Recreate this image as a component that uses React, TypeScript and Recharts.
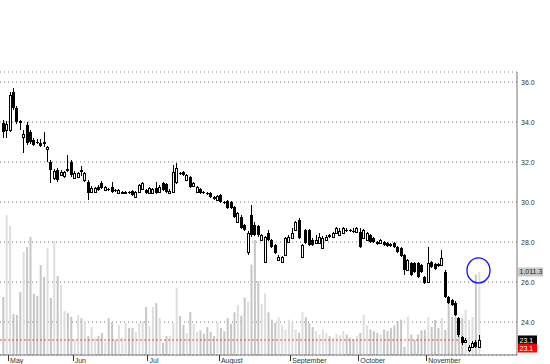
import { Bar, CartesianGrid, Cell, ComposedChart, ReferenceDot, ReferenceLine, XAxis, YAxis } from "recharts";

// daily candles, late April .. mid November
const opens = [
  33.95, 33.6, 33.6, 35.5, 34.7, 34.05, 33.25, 33.85, 33.5, 33.1,
  33.0, 32.95, 33.0, 32.65, 32.0, 31.2, 31.6, 31.35, 31.3, 31.65,
  32.0, 31.2, 31.25, 31.6, 31.1, 31.0, 30.5, 30.5, 30.75, 30.95,
  30.6, 30.65, 30.75, 30.6, 30.45, 30.5, 30.5, 30.5, 30.55, 30.25,
  30.5, 30.65, 30.6, 30.45, 30.45, 30.7, 30.5, 30.95, 30.9, 30.45,
  30.5, 31.0, 31.45, 31.5, 31.1, 31.25, 30.8, 30.5, 30.65, 30.5,
  30.45, 30.45, 30.25, 30.1, 30.35, 30.0, 30.05, 30.0, 29.75, 29.0,
  29.25, 28.85, 27.5, 29.35, 28.85, 28.8, 28.1, 27.0, 28.45, 28.1,
  27.85, 27.1, 27.0, 27.35, 28.0, 28.2, 28.6, 29.1, 27.25, 28.6,
  28.6, 28.1, 27.95, 27.95, 27.7, 28.1, 28.35, 28.25, 28.45, 28.35,
  28.45, 28.6, 28.6, 28.55, 28.5, 28.5, 28.2, 28.1, 28.35, 28.2,
  28.0, 27.95, 28.0, 27.95, 27.9, 27.95, 27.75, 27.7, 27.35, 26.6,
  26.95, 26.95, 26.95, 26.85, 26.25, 26.0, 27.0, 26.9, 26.9, 26.85,
  26.5, 25.25, 25.1, 24.95, 24.2, 23.25, 23.0, 22.6, 22.75, 23.0,
  22.75,
];
const highs = [
  34.1, 34.05, 35.5, 35.7, 34.8, 34.1, 33.6, 34.0, 33.6, 33.2,
  33.15, 33.15, 33.5, 32.8, 32.1, 31.65, 31.7, 31.6, 31.55, 32.35,
  32.1, 31.55, 31.5, 31.8, 31.5, 31.1, 30.8, 30.75, 30.85, 31.05,
  30.8, 30.7, 31.0, 30.65, 30.65, 30.55, 30.55, 30.55, 30.6, 30.55,
  30.9, 31.0, 30.65, 30.75, 30.7, 31.0, 30.85, 31.0, 30.95, 30.65,
  31.85, 31.95, 31.5, 31.55, 31.4, 31.3, 31.0, 30.8, 30.7, 30.55,
  30.5, 30.5, 30.3, 30.35, 30.4, 30.05, 30.1, 30.05, 29.8, 29.5,
  29.35, 28.9, 28.55, 29.85, 29.0, 28.85, 28.4, 28.3, 28.6, 28.15,
  27.9, 27.35, 27.3, 28.25, 28.35, 28.7, 29.05, 29.2, 27.9, 28.65,
  28.65, 28.2, 28.35, 28.45, 28.3, 28.35, 28.4, 28.5, 28.75, 28.7,
  28.75, 28.7, 28.65, 28.7, 28.75, 28.7, 28.65, 28.5, 28.4, 28.25,
  28.05, 28.15, 28.05, 28.0, 27.95, 28.0, 27.8, 27.75, 27.4, 27.15,
  27.0, 27.0, 27.0, 26.9, 26.3, 27.75, 27.05, 26.95, 26.95, 27.6,
  26.6, 25.3, 25.15, 25.05, 24.25, 23.3, 23.2, 22.85, 23.05, 23.1,
  23.35,
];
const lows = [
  33.2, 33.2, 33.5, 34.6, 33.9, 33.6, 32.45, 32.85, 32.9, 32.8,
  32.9, 32.75, 32.75, 32.0, 30.95, 31.1, 31.0, 31.3, 31.2, 31.5,
  31.25, 31.15, 31.2, 31.3, 31.0, 30.1, 30.45, 30.45, 30.55, 30.65,
  30.55, 30.55, 30.45, 30.5, 30.4, 30.45, 30.45, 30.4, 30.3, 30.2,
  30.45, 30.6, 30.4, 30.4, 30.4, 30.4, 30.45, 30.55, 30.45, 30.4,
  30.45, 30.9, 31.35, 31.3, 31.05, 30.7, 30.75, 30.45, 30.4, 30.4,
  30.35, 30.2, 30.1, 30.05, 29.95, 29.9, 29.65, 29.65, 29.2, 28.95,
  28.65, 28.55, 27.35, 28.25, 28.3, 28.25, 28.05, 26.95, 28.05, 27.7,
  27.4, 27.05, 26.95, 27.3, 27.95, 28.15, 28.55, 28.15, 27.2, 27.9,
  27.8, 27.8, 27.9, 27.9, 27.65, 28.05, 28.2, 28.2, 28.4, 28.3,
  28.4, 28.5, 28.5, 28.45, 28.45, 27.7, 28.15, 28.05, 27.95, 27.95,
  27.85, 27.9, 27.8, 27.75, 27.75, 27.7, 27.45, 27.25, 26.35, 26.55,
  26.3, 26.45, 26.2, 26.45, 25.9, 25.95, 26.7, 26.6, 26.75, 26.8,
  25.2, 24.9, 24.8, 24.3, 23.25, 22.85, 22.95, 22.5, 22.7, 22.7,
  22.7,
];
const closes = [
  33.5, 33.9, 35.35, 34.7, 34.0, 33.95, 33.4, 32.95, 33.0, 32.85,
  32.95, 32.8, 32.9, 32.75, 31.6, 31.55, 31.1, 31.5, 31.5, 31.55,
  31.35, 31.45, 31.45, 31.5, 31.45, 30.45, 30.7, 30.7, 30.6, 30.7,
  30.75, 30.6, 30.5, 30.55, 30.6, 30.5, 30.5, 30.45, 30.35, 30.5,
  30.85, 30.95, 30.45, 30.7, 30.65, 30.45, 30.75, 30.6, 30.5, 30.55,
  31.5, 31.7, 31.4, 31.35, 31.35, 30.75, 30.95, 30.75, 30.45, 30.45,
  30.4, 30.25, 30.15, 30.3, 30.0, 29.95, 29.7, 29.7, 29.25, 29.45,
  28.7, 28.6, 28.45, 28.35, 28.35, 28.35, 28.35, 28.25, 28.1, 27.75,
  27.45, 27.25, 27.25, 28.2, 28.25, 28.45, 29.0, 28.2, 27.85, 27.95,
  27.85, 27.85, 28.1, 28.25, 28.2, 28.25, 28.25, 28.45, 28.7, 28.55,
  28.7, 28.55, 28.55, 28.5, 28.7, 27.75, 28.6, 28.45, 28.0, 28.0,
  27.9, 28.1, 27.85, 27.8, 27.8, 27.75, 27.5, 27.3, 26.6, 27.1,
  26.35, 26.5, 26.25, 26.5, 25.95, 26.95, 26.75, 26.65, 26.8, 27.2,
  25.25, 24.95, 24.85, 24.35, 23.35, 22.95, 23.1, 22.75, 22.95, 22.75,
  23.1,
];
const volumes = [
  706, 1705, 1571, 499, 487, 767, 1254, 1315, 1437, 743,
  719, 1096, 950, 1303, 694, 1389, 962, 853, 536, 511,
  463, 183, 487, 450, 402, 231, 341, 207, 231, 268,
  158, 450, 402, 183, 365, 219, 390, 329, 329, 280,
  390, 414, 585, 353, 585, 633, 450, 146, 231, 231,
  390, 816, 475, 365, 268, 524, 378, 280, 300, 260,
  340, 280, 230, 400, 330, 290, 450, 380, 520, 610,
  480, 700, 650, 1100, 1400, 900, 620, 750, 520, 430,
  390, 460, 360, 310, 430, 390, 310, 270, 520, 460,
  390, 340, 290, 250, 310, 270, 230, 210, 260, 240,
  290, 250, 210, 190, 230, 270, 490, 360, 310, 290,
  270, 250, 310, 290, 330, 360, 410, 430, 100, 470,
  250, 183, 250, 300, 305, 463, 341, 426, 330, 450,
  305, 670, 463, 609, 390, 450, 548, 426, 463, 980,
  1011.3,
];

const monthStarts = [2, 21, 43, 64, 85, 105, 125];
const monthNames = ["May", "Jun", "Jul", "August", "September", "October", "November"];
const priceTicks = [24, 26, 28, 30, 32, 34, 36];
const lastClose = 23.1;
const lastVolume = 1011.3;
const lineEndDay = 134;
const markedDay = 139.85;
const markedPrice = 26.58;

const data = opens.map((o, i) => ({
  i,
  o,
  h: highs[i],
  l: lows[i],
  c: closes[i],
  range: [lows[i], highs[i]],
  vol: volumes[i],
}));

const FONT = "'Liberation Sans', Arial, sans-serif";

function Candle(props: any) {
  const { x, y, width, height, payload } = props;
  const { o, h, l, c } = payload;
  const k = h > l ? height / (h - l) : 0;
  const py = (v: number) => y + (h - v) * k;
  const cx = Math.round(x + width / 2);
  const top = Math.round(py(Math.max(o, c)));
  const bodyH = Math.max(1, Math.round(py(Math.min(o, c))) - top);
  const up = c >= o;
  return (
    <g>
      <line x1={cx + 0.5} x2={cx + 0.5} y1={y} y2={y + height} stroke="#000" />
      {up ? (
        <rect x={cx - 0.5} y={top + 0.5} width={2} height={bodyH} fill="#fff" stroke="#000" />
      ) : (
        <rect x={cx - 1} y={top} width={3} height={bodyH} fill="#000" />
      )}
    </g>
  );
}

function MonthTick(props: any) {
  const { x, y, payload } = props;
  const name = monthNames[monthStarts.indexOf(payload.value + 0.5)];
  return (
    <g>
      <line x1={Math.round(x) + 0.5} x2={Math.round(x) + 0.5} y1={y} y2={y + 6} stroke="#333" />
      <text x={x + 2} y={y + 8} fontSize={7} fontFamily={FONT} fill="#333">
        {name}
      </text>
    </g>
  );
}

function PriceTick(props: any) {
  const { x, y, payload } = props;
  return (
    <text x={x} y={y + 2.5} fontSize={7} fontFamily={FONT} fill="#333">
      {payload.value.toFixed(1)}
    </text>
  );
}

function Tag({ viewBox, text, bg, color, dy = 0, w = 19 }: any) {
  const x = viewBox.x + viewBox.width + 1;
  const y = viewBox.y + dy;
  return (
    <g>
      <rect x={x} y={y - 4.5} width={w} height={9} fill={bg} />
      <text x={x + 1.5} y={y + 2.5} fontSize={7} fontFamily={FONT} fill={color}>
        {text}
      </text>
    </g>
  );
}

export default function App() {
  return (
    <div style={{ position: "absolute", left: 0, top: 0, width: 550, height: 364, background: "#fff" }}>
      <ComposedChart width={550} height={364} data={data} margin={{ top: 72, right: 0, bottom: 0, left: 0 }}>
        <CartesianGrid yAxisId="p" xAxisId="p" vertical={false} stroke="#777" strokeDasharray="1 3" />
        <XAxis
          xAxisId="p"
          dataKey="i"
          type="number"
          domain={[-0.88, 151.18]}
          allowDataOverflow
          ticks={monthStarts.map((s) => s - 0.5)}
          interval={0}
          height={9}
          tickLine={false}
          tickSize={0}
          tickMargin={0}
          axisLine={{ stroke: "#777" }}
          tick={<MonthTick />}
        />
        <XAxis xAxisId="v" dataKey="i" type="number" domain={[-0.88, 151.18]} allowDataOverflow hide />
        <YAxis
          yAxisId="p"
          orientation="right"
          width={33}
          domain={[22.35, 36.5]}
          allowDataOverflow
          ticks={priceTicks}
          interval={0}
          tickLine={false}
          tickSize={2}
          tickMargin={2}
          axisLine={{ stroke: "#777" }}
          tick={<PriceTick />}
        />
        <YAxis yAxisId="vol" domain={[0, 3447]} allowDataOverflow hide />
        <Bar xAxisId="v" yAxisId="vol" dataKey="vol" barSize={2} isAnimationActive={false}>
          {data.map((d) => (
            <Cell key={d.i} fill={d.c >= d.o ? "#dedede" : "#c6c6c6"} />
          ))}
        </Bar>
        <ReferenceLine
          xAxisId="p"
          yAxisId="p"
          segment={[
            { x: -0.88, y: lastClose },
            { x: lineEndDay, y: lastClose },
          ]}
          stroke="#ff4040"
          strokeDasharray="2 2"
        />
        <Bar
          xAxisId="p"
          yAxisId="p"
          dataKey="range"
          barSize={3}
          isAnimationActive={false}
          shape={<Candle />}
        />
        <ReferenceDot
          xAxisId="p"
          yAxisId="p"
          x={markedDay}
          y={markedPrice}
          shape={(p: any) => (
            <ellipse cx={p.cx} cy={p.cy} rx={11.5} ry={12.5} fill="none" stroke="#1010ff" strokeWidth={1.3} />
          )}
        />
        <ReferenceLine
          xAxisId="p"
          yAxisId="vol"
          y={lastVolume}
          stroke="none"
          label={(p: any) => <Tag viewBox={p.viewBox} text="1,011.3" bg="#c8c8c8" color="#222" w={25} />}
        />
        <ReferenceLine
          xAxisId="p"
          yAxisId="p"
          y={lastClose}
          stroke="none"
          label={(p: any) => (
            <g>
              <Tag viewBox={p.viewBox} text={lastClose.toFixed(1)} bg="#000" color="#fff" />
              <Tag viewBox={p.viewBox} text={lastClose.toFixed(1)} bg="#ff0000" color="#fff" dy={8} />
            </g>
          )}
        />
      </ComposedChart>
    </div>
  );
}
